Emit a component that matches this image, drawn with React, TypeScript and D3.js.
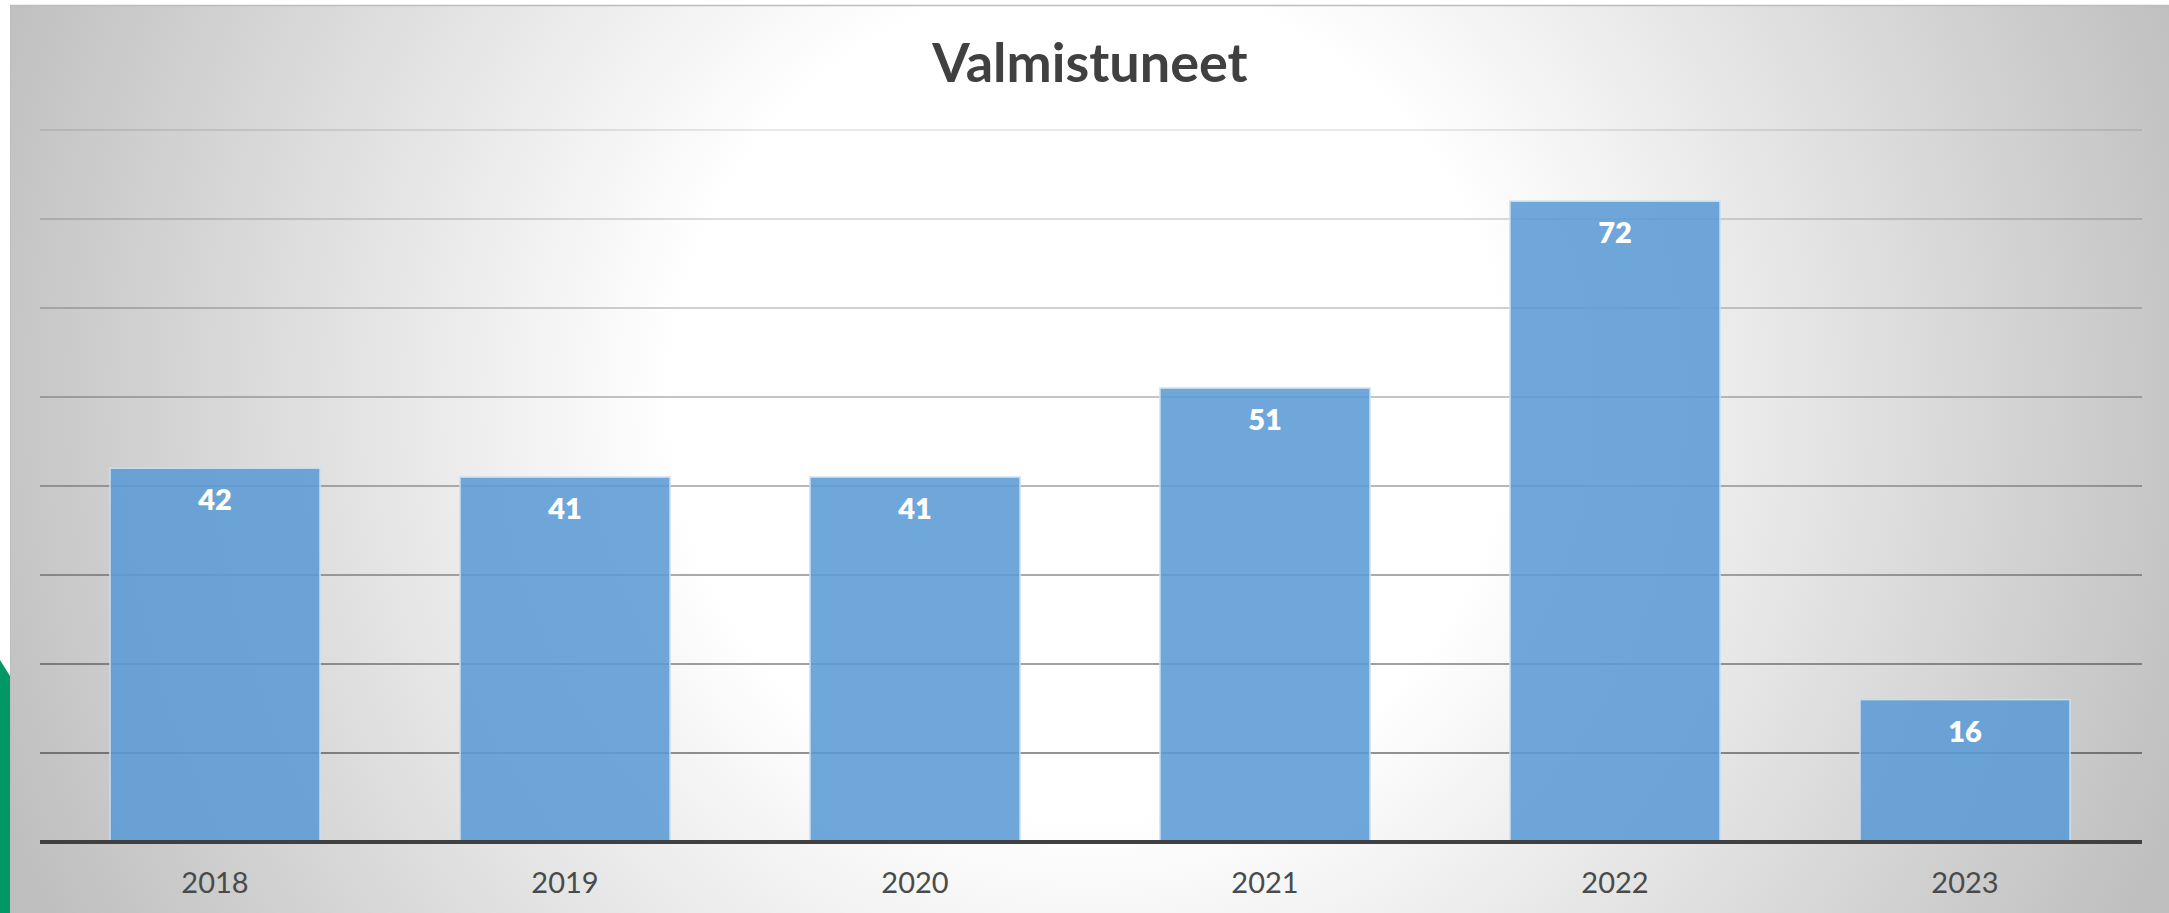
import React from "react";
import * as d3 from "d3";

const years = ["2018", "2019", "2020", "2021", "2022", "2023"];
const graduates = [42, 41, 41, 51, 72, 16];
const yTicks = [0, 10, 20, 30, 40, 50, 60, 70, 80];
const title = "Valmistuneet";

const width = 2169;
const height = 913;
// plot area
const left = 40;
const right = 2140;
const top = 130;
const bottom = 842;

export default function App() {
	const x = d3.scaleBand<string>()
		.domain(years)
		.range([left, right])
		.paddingInner(0.4)
		.paddingOuter(0.2);

	const y = d3.scaleLinear()
		.domain([0, 80])
		.range([bottom, top]);

	// gridlines get darker towards the bottom
	const gridOpacity = d3.scaleLinear().domain([80, 10]).range([0.09, 0.42]);

	return (
		<svg width={width} height={height} style={{ position: "absolute", left: 0, top: 0 }}
			fontFamily="Lato, 'Open Sans', sans-serif">
			<defs>
				<radialGradient id="bg" gradientUnits="userSpaceOnUse" cx={1090} cy={400} r={1160}>
					<stop offset="0" stopColor="#ffffff" />
					<stop offset="0.36" stopColor="#ffffff" />
					<stop offset="1" stopColor="#bfbfbf" />
				</radialGradient>
			</defs>
			<rect x={0} y={0} width={width} height={height} fill="#ffffff" />
			{/* green bit peeking in at the left */}
			<polygon points="0,660 10,676 10,913 0,913" fill="#009966" />
			<rect x={10} y={5} width={width - 10} height={height - 5} fill="url(#bg)" />
			<line x1={10} x2={width} y1={5.5} y2={5.5} stroke="#bdbdbd" strokeWidth={1.5} />
			<line x1={10.5} x2={10.5} y1={5} y2={height} stroke="#bdbdbd" strokeWidth={1} />

			<text x={1090} y={82} textAnchor="middle" fontSize={54} fontWeight="bold" fill="#404040">
				{title}
			</text>

			<g>
				{yTicks.filter(t => t > 0).map(t => (
					<line key={t} x1={left} x2={2142} y1={y(t)} y2={y(t)}
						stroke="#000" strokeOpacity={gridOpacity(t)} strokeWidth={2} />
				))}
			</g>

			<g>
				{graduates.map((v, i) => (
					<g key={years[i]}>
						<rect x={x(years[i])} y={y(v)} width={x.bandwidth()} height={bottom - y(v)}
							fill="#5b9bd5" fillOpacity={0.88} stroke="#c9def2" strokeWidth={1.5} />
						<text x={(x(years[i]) as number) + x.bandwidth() / 2} y={y(v) + 42}
							textAnchor="middle" fontSize={29} fontWeight={800} fill="#ffffff">
							{v}
						</text>
					</g>
				))}
			</g>

			<line x1={left} x2={2142} y1={bottom} y2={bottom} stroke="#404040" strokeWidth={4} />

			<g>
				{years.map(yr => (
					<text key={yr} x={(x(yr) as number) + x.bandwidth() / 2} y={893}
						textAnchor="middle" fontSize={29} fill="#4a4a4a">
						{yr}
					</text>
				))}
			</g>
		</svg>
	);
}
